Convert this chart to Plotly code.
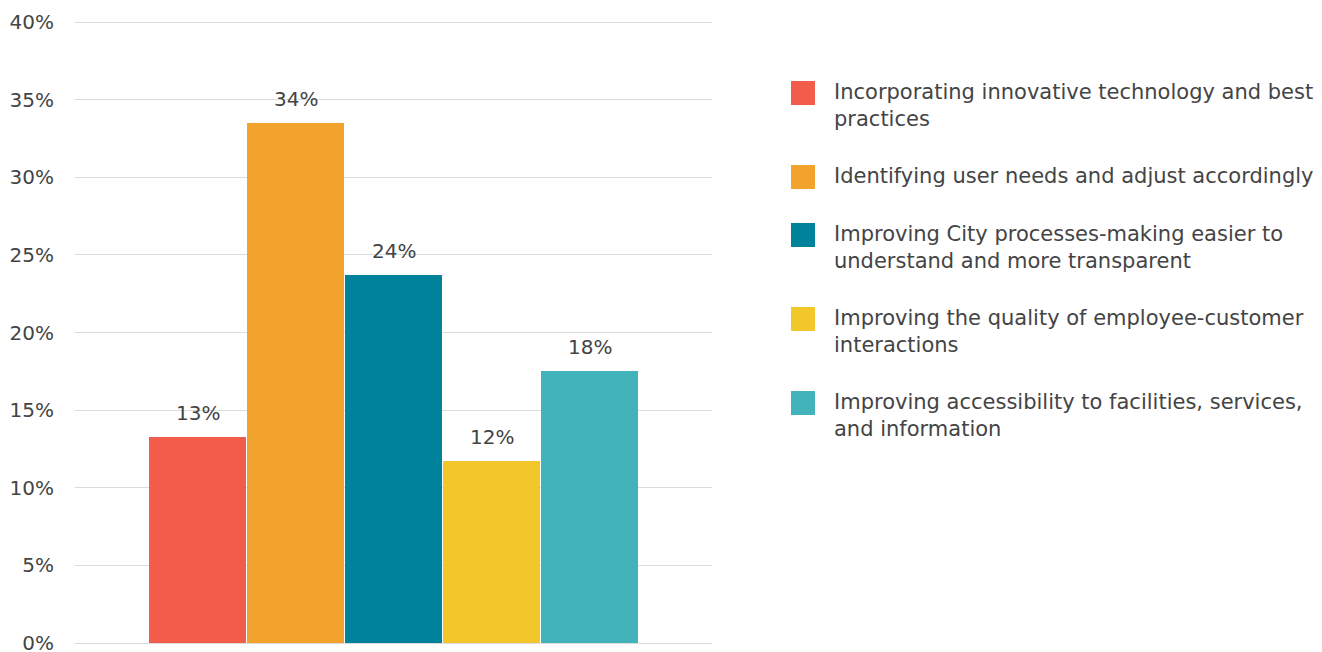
import plotly.graph_objects as go

# Survey results: share of respondents choosing each priority
categories = [
    "Incorporating innovative technology and best<br>practices",
    "Identifying user needs and adjust accordingly",
    "Improving City processes-making easier to<br>understand and more transparent",
    "Improving the quality of employee-customer<br>interactions",
    "Improving accessibility to facilities, services,<br>and information",
]
values = [13.3, 33.5, 23.7, 11.7, 17.5]
colors = ["#F25C4A", "#F2A32D", "#00829B", "#F2C72A", "#42B3BB"]
y_ticks = [0, 5, 10, 15, 20, 25, 30, 35, 40]

W, H = 1322, 652
# pixel rows of the 40% and 0% gridlines, plus a small pad so the
# end gridlines are not clipped away
Y_TOP, Y_BOT, EDGE_PAD = 22, 643, 2
PLOT_L, PLOT_R = 75, 712
PLOT_T, PLOT_B = Y_TOP - EDGE_PAD, Y_BOT + EDGE_PAD
px_per_unit = (Y_BOT - Y_TOP) / 40
pad_units = EDGE_PAD / px_per_unit

FONT = "DejaVu Sans"
TEXT_COLOR = "#444444"
AXIS_FONT = dict(family=FONT, size=20, color=TEXT_COLOR)
LEGEND_FONT = dict(family=FONT, size=21, color=TEXT_COLOR)

x_idx = list(range(len(values)))

fig = go.Figure()
fig.add_trace(go.Bar(
    x=x_idx,
    y=values,
    width=0.98,
    marker=dict(color=colors, line=dict(width=0)),
    showlegend=False,
    hoverinfo="skip",
    cliponaxis=False,
))

# value labels above each bar
annotations = []
for i, v in zip(x_idx, values):
    annotations.append(dict(
        x=i, y=v, xref="x", yref="y",
        text=f"{v:.0f}%", showarrow=False,
        yanchor="bottom", yshift=10,
        font=AXIS_FONT,
    ))

# legend drawn as squares plus text on the right
shapes = []
legend_centers = [93, 177, 235, 319, 403]
plot_w = PLOT_R - PLOT_L
plot_h = PLOT_B - PLOT_T


def px_x(px):
    return (px - PLOT_L) / plot_w


def px_y(py):
    return (PLOT_B - py) / plot_h


for cy, name, col in zip(legend_centers, categories, colors):
    shapes.append(dict(
        type="rect", xref="paper", yref="paper",
        x0=px_x(791), x1=px_x(815), y0=px_y(cy + 12), y1=px_y(cy - 12),
        fillcolor=col, line=dict(width=0),
    ))
    annotations.append(dict(
        x=px_x(832), y=px_y(cy - 15), xref="paper", yref="paper",
        xanchor="left", yanchor="top", align="left",
        text=name, showarrow=False,
        font=LEGEND_FONT,
    ))

fig.update_layout(
    width=W, height=H,
    margin=dict(l=PLOT_L, r=W - PLOT_R, t=PLOT_T, b=H - PLOT_B, pad=0,
                autoexpand=False),
    paper_bgcolor="white", plot_bgcolor="white",
    bargap=0,
    annotations=annotations,
    shapes=shapes,
    showlegend=False,
    xaxis=dict(
        range=[-1.25, 5.25], showticklabels=False, showgrid=False,
        zeroline=False, showline=False, fixedrange=True, automargin=False,
    ),
    yaxis=dict(
        range=[-pad_units, 40 + pad_units], tickvals=y_ticks,
        ticktext=[f"{t}%" for t in y_ticks],
        showgrid=True, gridcolor="#dcdcdc", gridwidth=1,
        zeroline=False, showline=False,
        ticklabelstandoff=20,
        ticklabeloverflow="allow",
        automargin=False,
        tickfont=AXIS_FONT,
        fixedrange=True,
    ),
)

fig.write_html("out.html")
